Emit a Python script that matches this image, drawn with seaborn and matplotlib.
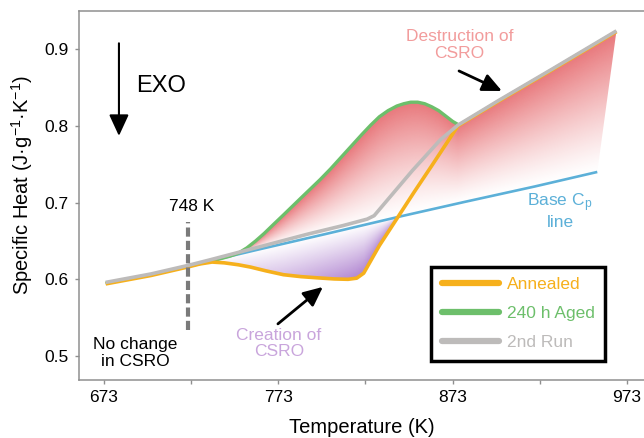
import numpy as np
import pandas as pd
import matplotlib
matplotlib.use("Agg")
import matplotlib.pyplot as plt
import seaborn as sns
from matplotlib.lines import Line2D
from matplotlib.patches import Polygon

# ---- data: specific heat (J/g/K) vs temperature (K) ----
base_T = [674, 700, 721, 760, 800, 843, 880, 920, 956]
base_cp = [0.595, 0.606, 0.617, 0.638, 0.659, 0.682, 0.701, 0.721, 0.740]

run2_T = [674, 700, 721, 734, 760, 790, 810, 824, 828, 850, 866, 876, 900, 930, 967]
run2_cp = [0.596, 0.607, 0.618, 0.6255, 0.641, 0.659, 0.670, 0.6785, 0.683,
           0.742, 0.782, 0.801, 0.834, 0.874, 0.924]

annealed_T = [674, 700, 721, 728, 735, 742, 750, 757, 766, 776, 786, 795, 805,
              813, 818, 822, 831, 841, 851, 861, 870, 876, 900, 930, 967]
annealed_cp = [0.594, 0.605, 0.616, 0.620, 0.6225, 0.6215, 0.619, 0.616, 0.611,
               0.606, 0.6035, 0.602, 0.6005, 0.600, 0.6015, 0.608, 0.644, 0.679,
               0.714, 0.748, 0.779, 0.800, 0.833, 0.873, 0.923]

aged_T = [674, 700, 721, 735, 745, 750, 755, 760, 765, 770, 776, 786, 797, 803,
          809, 815, 821, 826, 831, 836, 841, 845, 849, 853, 857, 861, 865, 869,
          873, 876]
aged_cp = [0.595, 0.606, 0.617, 0.624, 0.630, 0.634, 0.641, 0.650, 0.660, 0.671,
           0.684, 0.706, 0.730, 0.744, 0.759, 0.774, 0.789, 0.801, 0.812, 0.820,
           0.826, 0.829, 0.831, 0.831, 0.829, 0.825, 0.820, 0.813, 0.806, 0.802]

x_ticks = [673, 723, 773, 823, 873, 923, 973]
x_ticklabels = ["673", "", "773", "", "873", "", "973"]
y_ticks = [0.5, 0.6, 0.7, 0.8, 0.9]
y_ticklabels = ["0.5", "0.6", "0.7", "0.8", "0.9"]

series_labels = ["Annealed", "240 h Aged", "2nd Run"]

# ---- style ----
C_ORANGE = "#f6b01c"
C_GREEN = "#6dbf6b"
C_GRAY = "#bdbbba"
C_BLUE = "#5cb0d8"
C_RED = np.array([231, 112, 116]) / 255
C_PURPLE = np.array([172, 126, 206]) / 255
C_SPINE = "#8f8f8f"

sns.set_theme(style="white")
plt.rcParams["font.family"] = ["Liberation Sans", "DejaVu Sans"]
plt.rcParams["mathtext.fontset"] = "custom"
plt.rcParams["mathtext.rm"] = "Liberation Sans"
plt.rcParams["mathtext.it"] = "Liberation Sans:italic"

W, H = 644, 438
fig = plt.figure(figsize=(W / 100, H / 100), dpi=100)
ax = fig.add_axes([78.5 / W, 58 / H, 1 - 78.5 / W, (380 - 10.7) / H])

XLIM = (658.4, 982.8)
YLIM = (0.4687, 0.9503)

# ---- gradient fills ----
upper_T = np.array(aged_T + [t for t in run2_T if t > 876])
upper_cp = np.array(aged_cp + [c for t, c in zip(run2_T, run2_cp) if t > 876])
bT = np.array(base_T)
bC = np.array(base_cp)

# red region between aged / upper branch and the base line
red_top = [(t, c) for t, c in zip(upper_T, upper_cp) if t >= 745]
red_bottom = [(t, c) for t, c in zip(bT, bC) if t >= 745][::-1]
red_poly = Polygon(red_top + red_bottom, closed=True, facecolor="none",
                   edgecolor="none", transform=ax.transData)
ax.add_patch(red_poly)

gT = np.linspace(740, 970, 500)
gC = np.linspace(0.62, 0.93, 400)
TT, CC = np.meshgrid(gT, gC)
lo = np.interp(TT, bT, bC)
hi = np.interp(TT, upper_T, upper_cp)
s = np.clip((CC - lo) / np.maximum(hi - lo, 1e-3), 0, 1)
rgba = np.zeros(TT.shape + (4,))
rgba[..., :3] = C_RED
rgba[..., 3] = 0.95 * s ** 1.2
im = ax.imshow(rgba, extent=[gT[0], gT[-1], gC[0], gC[-1]], origin="lower",
               aspect="auto", interpolation="bilinear", zorder=1)
im.set_clip_path(red_poly)

# purple region between base line and annealed dip
aT = np.array(annealed_T)
aC = np.array(annealed_cp)
pur_bottom = [(t, c) for t, c in zip(aT, aC) if 728 <= t <= 841]
pur_top = [(t, c) for t, c in zip(bT, bC) if 728 <= t <= 843][::-1]
pur_poly = Polygon(pur_bottom + pur_top, closed=True, facecolor="none",
                   edgecolor="none", transform=ax.transData)
ax.add_patch(pur_poly)

pT = np.linspace(725, 846, 300)
pC = np.linspace(0.59, 0.69, 250)
PT, PC = np.meshgrid(pT, pC)
plo = np.interp(PT, aT, aC)
phi = np.interp(PT, bT, bC)
ps = np.clip((phi - PC) / np.maximum(phi - plo, 1e-3), 0, 1)
ph = np.clip((PT - 728) / (818 - 728), 0, 1)
prgba = np.zeros(PT.shape + (4,))
prgba[..., :3] = C_PURPLE
prgba[..., 3] = 0.95 * ps ** 1.0 * ph ** 1.1
pim = ax.imshow(prgba, extent=[pT[0], pT[-1], pC[0], pC[-1]], origin="lower",
                aspect="auto", interpolation="bilinear", zorder=1)
pim.set_clip_path(pur_poly)

# ---- curves ----
sns.lineplot(x=base_T, y=base_cp, color=C_BLUE, lw=1.9, ax=ax,
             estimator=None, zorder=3)
sns.lineplot(x=aged_T, y=aged_cp, color=C_GREEN, lw=2.4, ax=ax,
             estimator=None, zorder=4)
sns.lineplot(x=annealed_T, y=annealed_cp, color=C_ORANGE, lw=2.6, ax=ax,
             estimator=None, zorder=5)
sns.lineplot(x=run2_T, y=run2_cp, color=C_GRAY, lw=2.6, ax=ax,
             estimator=None, zorder=6)
for ln in ax.lines:
    ln.set_solid_joinstyle("round")
    ln.set_solid_capstyle("butt")

# 748 K marker line
ax.plot([721.2, 721.2], [0.534, 0.675], color="#7a7a7a", lw=3.0,
        dashes=(2.2, 1.0), zorder=7, solid_capstyle="butt",
        dash_capstyle="butt")

# ---- annotations ----
txt = dict(fontsize=12.5, ha="center", va="center", linespacing=1.1)
ax.text(723.2, 0.6948, "748 K", color="black", **txt)
ax.text(690.8, 0.504, "No change\nin CSRO", color="black", **txt)
ax.text(773.4, 0.5159, "Creation of\nCSRO", color="#c9a5dc", **txt)
ax.text(877.0, 0.9056, "Destruction of\nCSRO", color="#f29c9c", **txt)
ax.text(934.6, 0.689, "Base C$_\\mathregular{p}$\nline", color=C_BLUE, **txt)
ax.text(691.4, 0.852, "EXO", color="black", fontsize=17, ha="left",
        va="center")

ax.annotate("", xy=(681.6, 0.787), xytext=(681.6, 0.9078),
            arrowprops=dict(arrowstyle="-|>,head_length=0.65,head_width=0.3",
                            color="black", lw=1.5, mutation_scale=20,
                            shrinkA=0, shrinkB=0))
ax.annotate("", xy=(901.3, 0.8456), xytext=(876.7, 0.8717),
            arrowprops=dict(arrowstyle="-|>,head_length=0.65,head_width=0.3",
                            color="black", lw=2.0, mutation_scale=18,
                            shrinkA=0, shrinkB=0))
ax.annotate("", xy=(798.6, 0.5901), xytext=(772.8, 0.5419),
            arrowprops=dict(arrowstyle="-|>,head_length=0.65,head_width=0.3",
                            color="black", lw=2.0, mutation_scale=18,
                            shrinkA=0, shrinkB=0))

# ---- axes ----
ax.set_xlim(*XLIM)
ax.set_ylim(*YLIM)
ax.set_xticks(x_ticks)
ax.set_xticklabels(x_ticklabels)
ax.set_yticks(y_ticks)
ax.set_yticklabels(y_ticklabels)
ax.tick_params(axis="both", which="both", direction="out", length=3, width=1,
               color=C_SPINE, labelsize=12.5, labelcolor="black",
               bottom=True, left=True, pad=4)
ax.spines["right"].set_visible(False)
for side in ("top", "left", "bottom"):
    ax.spines[side].set_color(C_SPINE)
    ax.spines[side].set_linewidth(1.1)

ax.set_xlabel("Temperature (K)", fontsize=14.5, color="black")
ax.set_ylabel("Specific Heat (J·g$^{\\mathregular{-1}}$·K$^{\\mathregular{-1}}$)",
              fontsize=14.5, color="black")
ax.xaxis.set_label_coords((362 - 78.5) / (W - 78.5), -(418 - 380) / 369.3)
ax.yaxis.set_label_coords(-(78.5 - 35) / (W - 78.5), (380 - 185) / 369.3)

# ---- legend ----
handles = [Line2D([], [], color=C_ORANGE, lw=4.5),
           Line2D([], [], color=C_GREEN, lw=4.5),
           Line2D([], [], color=C_GRAY, lw=4.5)]
leg = ax.legend(handles, series_labels, loc="lower right",
                bbox_to_anchor=(0.931, 0.0523), borderaxespad=0,
                frameon=True, fancybox=False, edgecolor="black", framealpha=1,
                fontsize=12.5, handlelength=3.3, handletextpad=0.45,
                labelspacing=0.8, borderpad=0.6, labelcolor="linecolor")
leg.get_frame().set_linewidth(2.5)
leg.set_zorder(10)

fig.savefig("out.png", dpi=100)
